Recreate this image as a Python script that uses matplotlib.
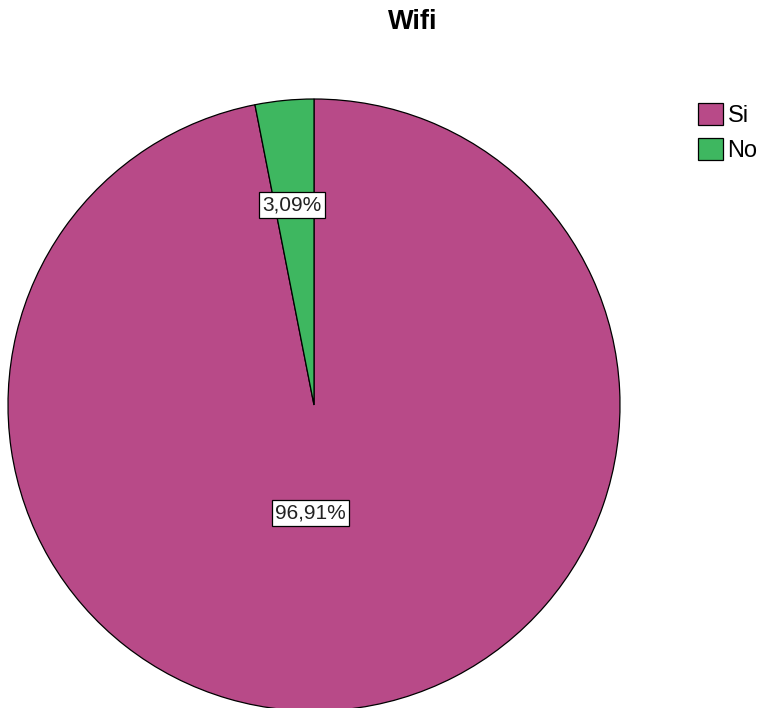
import matplotlib
matplotlib.use("Agg")
import matplotlib.pyplot as plt

categories = ["Si", "No"]
values = [96.91, 3.09]
colors = ["#B84A88", "#3EB760"]
title = "Wifi"

plt.rcParams['font.family'] = ['Liberation Sans', 'DejaVu Sans']

W, H = 762, 708
fig = plt.figure(figsize=(W / 100, H / 100), dpi=100)
cx, cy, r = 314, 405, 306
ax = fig.add_axes([(cx - r) / W, (H - cy - r) / H, 2 * r / W, 2 * r / H])

wedges, texts, autotexts = ax.pie(
    values, colors=colors, startangle=90, counterclock=False,
    wedgeprops=dict(edgecolor="black", linewidth=0.9),
    autopct=lambda p: f"{p:.2f}%".replace(".", ","),
    textprops=dict(fontsize=15, color="#222222"),
    radius=1.0,
)
ax.set_xlim(-1, 1)
ax.set_ylim(-1, 1)
ax.set_aspect("equal")
ax.axis("off")

label_pos = [(-0.013, -0.353), (-0.072, 0.654)]
for t, pos in zip(autotexts, label_pos):
    t.set_position(pos)
    t.set_ha("center")
    t.set_va("center")
    t.set_bbox(dict(boxstyle="square,pad=0.15", facecolor="white", edgecolor="black", linewidth=0.9))

fig.text(413 / W, 1 - 22 / H, title, ha="center", va="center", fontsize=19.5, fontweight="bold")

leg = fig.legend(wedges, categories, loc="upper left",
                 bbox_to_anchor=(698 / W, 1 - 103 / H), frameon=False,
                 fontsize=17, handlelength=1.05, handleheight=1.05,
                 handletextpad=0.2, labelspacing=0.45, borderpad=0, borderaxespad=0)

fig.savefig("out.png", dpi=100)
